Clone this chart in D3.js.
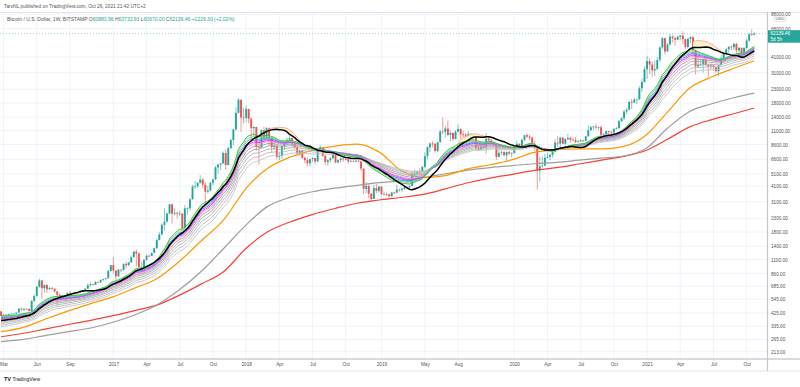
<!DOCTYPE html>
<html>
<head>
<meta charset="utf-8">
<script src="https://cdn.jsdelivr.net/npm/d3@7"></script>
<style>
  body { margin: 0; background: #fff; }
  svg { display: block; font-family: "Liberation Sans", Arial, sans-serif; }
</style>
</head>
<body>
<svg id="chart" width="800" height="387"></svg>
<script>
// weekly BTC/USD candles (Bitstamp), one value per week, first bar = week of 29 Feb 2016
const firstBar = "2016-02-29";
const firstOpen = 437;
const lastOpen = 60883.96;

const closes = [
  404, 411, 410, 416, 420, 420, 428, 459, 451, 458, 457, 441, 527, 575, 680, 760, 662, 702, 650, 664, 655, 625,
  590, 568, 582, 570, 608, 605, 607, 602, 610, 617, 639, 656, 698, 711, 703, 738, 735, 764, 778, 790, 897, 998,
  907, 818, 922, 915, 1020, 997, 1050, 1150, 1270, 1230, 965, 966, 1098, 1180, 1178, 1240, 1350, 1560, 1730, 2050,
  2170, 2510, 2960, 2500, 2540, 2500, 2500, 1930, 2750, 2750, 3230, 4070, 4080, 4350, 4590, 4200, 3700, 3780, 4350,
  4610, 5710, 6010, 6140, 7390, 5950, 8050, 9320, 11250, 15140, 19100, 13900, 13850,
  16200, 13600, 11500, 11750, 8200, 8100, 11100, 9600, 11500, 9600, 8200, 8450, 6900, 7000, 8350, 8900, 9350, 9650,
  8700, 8200, 7350, 7700, 6780, 6500, 6150, 6620, 6750, 6360, 7700, 8200, 7020, 6300, 6500, 6720, 7300, 6250, 6500,
  6700, 6630, 6600, 6350, 6420, 6350, 6450, 6350, 5600, 3900, 4100, 3580, 3250, 3950, 3760, 4050,
  3550, 3550, 3530, 3410, 3650, 3640, 3850, 3820, 3900, 4000, 3990, 4100, 5050, 5070, 5320, 5270, 5760, 6990, 8180,
  8750, 8730, 7650, 8950, 10850, 10800, 11450, 10200, 10560, 9480, 10800, 11360, 10300, 10150, 9600, 10400, 10350,
  10050, 8050, 7850, 8300, 8230, 9550, 9250, 8800, 8500, 6900, 7400, 7500, 7100, 7520, 7320, 7360,
  8150, 8700, 8350, 9350, 10150, 9900, 9700, 8550, 8050, 5400, 5820, 5900, 6780, 6900, 7150, 7550, 8900, 8750, 9700,
  8720, 9450, 9670, 9350, 9300, 9000, 9070, 9250, 9170, 9950, 11100, 11700, 11850, 11650, 11700, 10250, 10320, 10920,
  10750, 10680, 11370, 11500, 13030, 13750, 15480, 15970, 18400, 18170, 19150, 19270, 23450, 26250, 33000,
  38150, 35800, 32250, 33100, 38900, 48600, 57400, 45200, 51200, 59000, 57500, 55800, 58700, 60000, 56300, 49050,
  56600, 58300, 46500, 34700, 35600, 35800, 39100, 35500, 34700, 35300, 34250, 31800, 35400, 39850, 43800, 47050,
  49300, 48900, 51750, 46050, 48300, 43200, 48200, 54950, 61500, 60910.16, 62139.46
];

const highs = [
  440, 420, 418, 420, 424, 424, 430, 462, 468, 465, 460, 458, 535, 590, 690, 785, 770, 705, 705, 680, 675, 660,
  628, 600, 590, 585, 612, 630, 612, 610, 612, 620, 642, 660, 720, 740, 720, 752, 745, 775, 780, 795, 920, 1000,
  1150, 910, 930, 925, 1035, 1065, 1060, 1190, 1290, 1325, 1250, 1060, 1110, 1210, 1200, 1250, 1360, 1600, 1800, 2100,
  2760, 2530, 2980, 2980, 2760, 2600, 2640, 2530, 2920, 2810, 3300, 4190, 4480, 4370, 4980, 4710, 4400, 4100, 4400,
  4630, 5860, 6100, 6200, 7600, 7890, 8250, 9500, 11400, 16700, 19666, 19200, 16500,
  17250, 16300, 14000, 11900, 11800, 9000, 11300, 11800, 11700, 11700, 9900, 9100, 8500, 7500, 8450, 9000, 9750, 9950,
  9700, 8880, 8450, 7770, 7800, 6900, 6800, 6650, 6850, 6800, 7700, 8500, 8200, 7150, 6600, 6880, 7350, 7410, 6600,
  6800, 6780, 6700, 6700, 6800, 6450, 6480, 6550, 6450, 5600, 4400, 4300, 3600, 4200, 4250, 4100,
  4100, 3720, 3650, 3560, 3700, 3700, 4200, 3900, 3950, 4030, 4090, 4150, 5350, 5470, 5420, 5650, 5880, 7480, 8350,
  8950, 9090, 8800, 9000, 11200, 13880, 12000, 13200, 11100, 10620, 11100, 12300, 11450, 10950, 10600, 10950, 10480,
  10350, 10050, 8500, 8650, 8400, 10500, 9950, 9500, 9000, 8600, 7850, 7750, 7650, 7600, 7700, 7500,
  8450, 9180, 8800, 9550, 10200, 10500, 10250, 9950, 9200, 8150, 6900, 6950, 7280, 7450, 7300, 7750, 9450, 10050, 9900,
  9850, 9720, 10400, 9950, 9800, 9800, 9300, 9480, 9330, 10050, 12050, 12000, 12080, 12480, 11800, 12100, 10600, 11050,
  10980, 10950, 11450, 11750, 13350, 14000, 15950, 16480, 18800, 19400, 19900, 19450, 24300, 28000, 34800,
  41950, 40100, 37800, 38500, 40900, 49700, 58350, 57500, 52650, 61700, 60500, 58400, 60000, 61000, 64850, 57000,
  58000, 59500, 59600, 46700, 40800, 39500, 39900, 41300, 36000, 36600, 35900, 34500, 35500, 42600, 44800, 48100,
  49400, 50500, 52900, 52950, 48850, 48400, 49000, 56100, 62900, 67000, 63733.93
];

const lows = [
  400, 400, 405, 410, 412, 415, 418, 425, 443, 440, 448, 436, 438, 512, 570, 665, 550, 610, 610, 645, 645, 610,
  480, 565, 565, 565, 565, 600, 600, 590, 595, 605, 615, 630, 650, 680, 695, 700, 725, 725, 755, 770, 790, 890,
  860, 755, 815, 885, 910, 940, 985, 1040, 1150, 980, 930, 890, 930, 1080, 1150, 1170, 1240, 1340, 1560, 1700,
  1850, 2140, 2460, 2100, 2430, 2300, 2420, 1830, 1920, 2450, 2650, 3230, 3900, 3950, 4280, 3980, 2970, 3590, 3700,
  4140, 4590, 5100, 5460, 6070, 5500, 5950, 7950, 8500, 11050, 15050, 10800, 12500,
  12800, 12600, 9000, 9900, 7700, 6000, 8100, 9300, 9400, 8400, 7400, 7800, 6600, 6500, 6650, 7800, 8600, 8950,
  8300, 7950, 7100, 7050, 6650, 6120, 5800, 5800, 6300, 6050, 6300, 7670, 6900, 5950, 5880, 6250, 6650, 6150, 6120,
  6200, 6300, 6470, 6100, 6300, 6300, 6250, 6300, 5330, 3550, 3600, 3300, 3150, 3250, 3600, 3650,
  3500, 3470, 3450, 3350, 3380, 3550, 3610, 3700, 3680, 3820, 3900, 3900, 4100, 4950, 4980, 5000, 5250, 5600, 6600,
  7500, 8200, 7450, 7500, 8950, 10300, 9700, 10000, 9100, 9150, 9400, 10800, 9500, 9800, 9350, 9550, 9900,
  9850, 7800, 7700, 7780, 7900, 7300, 8900, 8700, 8350, 6550, 6850, 7150, 6950, 6450, 7140, 6870,
  7350, 8050, 8250, 8300, 9150, 9700, 9300, 8450, 7700, 3850, 4450, 5700, 5850, 6750, 6500, 6800, 7450, 8200, 8100,
  8650, 8600, 9280, 8900, 9200, 8820, 8900, 9050, 9000, 9150, 9900, 11100, 11150, 11250, 11100, 9900, 9850, 10200,
  10150, 10400, 10530, 11200, 11400, 12900, 13300, 14800, 15850, 16200, 18000, 17650, 19000, 21900, 26000,
  27700, 30300, 28800, 29200, 32300, 37350, 47000, 43000, 45000, 50300, 53300, 50400, 55500, 55500, 51500, 47000,
  47500, 52900, 42950, 30000, 33400, 34800, 31000, 34800, 28800, 32700, 32100, 31100, 29300, 35200, 37500, 42900,
  43900, 46300, 46500, 43000, 43500, 39600, 40800, 47100, 53900, 59700, 60670
];

// long moving averages, every two months
const maDates = [
  "2016-02-29", "2016-05-01", "2016-07-01", "2016-09-01", "2016-11-01", "2017-01-01", "2017-03-01", "2017-05-01",
  "2017-07-01", "2017-09-01", "2017-11-01", "2018-01-01", "2018-03-01", "2018-05-01", "2018-07-01", "2018-09-01",
  "2018-11-01", "2019-01-01", "2019-03-01", "2019-05-01", "2019-07-01", "2019-09-01", "2019-11-01", "2020-01-01",
  "2020-03-01", "2020-05-01", "2020-07-01", "2020-09-01", "2020-11-01", "2021-01-01", "2021-03-01", "2021-05-01",
  "2021-07-01", "2021-09-01", "2021-10-25"
];
const ma50 = [
  305, 329, 382, 441, 503, 567, 662, 784, 1063, 1550, 2250, 3935, 5623, 6846, 7750, 8367, 8667, 7504, 5433, 4775,
  4942, 5567, 5992, 6563, 7467, 7833, 7946, 7946, 8313, 10146, 15338, 23546, 28808, 33700, 38350
];
const maLong = [
  255, 265, 285, 305, 325, 360, 410, 490, 640, 900, 1350, 2050, 2850, 3350, 3700, 3950, 4150, 4350, 4500, 4750,
  5100, 5450, 5700, 5900, 6100, 6250, 6500, 6750, 7000, 8000, 11500, 15500, 17800, 19900, 21500
];
const ma200 = [
  278, 296, 320, 346, 373, 405, 444, 489, 582, 715, 892, 1351, 1810, 2156, 2463, 2746, 3015, 3192, 3341, 3529,
  3894, 4346, 4724, 5044, 5421, 5690, 6069, 6505, 6962, 7735, 9435, 11773, 13412, 14945, 16510
];

// upper edge of the light band over the 20-week line
const bandTops = [
  [["2018-02-19", 10700], ["2018-03-05", 11300], ["2018-03-19", 11600], ["2018-04-02", 11700], ["2018-04-16", 11600],
   ["2018-04-30", 11200], ["2018-05-14", 10300], ["2018-05-28", 9300]],
  [["2019-08-05", 9000], ["2019-08-19", 9700], ["2019-09-02", 10100], ["2019-09-16", 10400], ["2019-09-30", 10300],
   ["2019-10-14", 10000], ["2019-10-28", 9800]],
  [["2021-05-10", 54000], ["2021-05-24", 55000], ["2021-06-07", 54500], ["2021-06-21", 53000], ["2021-07-05", 50500],
   ["2021-07-19", 47000], ["2021-08-02", 44500]]
];

// EMA ribbon on the closes, each started from the level it shows at the left edge
const ribbonPeriods = [20, 22, 24, 26, 28, 30];
const ribbonStart = [403, 398, 393, 389, 384, 380];
const grayPeriods = [33, 37, 42, 48, 55];
const grayStart = [372, 362, 352, 342, 332];
// 20-week SMA; weeks before the first bar taken at the level read at the left edge
const blackPeriod = 20;
const blackLead = 370;

const priceTicks = [88000, 68000, 41000, 31000, 23000, 18000, 14000, 11000, 8600, 6600, 5100, 4100, 3100, 2300,
  1800, 1400, 1100, 860, 685, 545, 425, 335, 265, 213];
const timeTicks = ["2016-03", "2016-06", "2016-09", "2017-01", "2017-04", "2017-07", "2017-10", "2018-01", "2018-04",
  "2018-07", "2018-10", "2019-01", "2019-05", "2019-08", "2020-01", "2020-04", "2020-07", "2020-10", "2021-01",
  "2021-04", "2021-07", "2021-10"];

const ribbonColors = ["#3dbf45", "#93d86c", "#3cb6ee", "#8668f0", "#e040fb", "#f59bc4"];
const grayColors = ["#9c9c9c", "#a6a6a6", "#b0b0b0", "#bababa", "#c4c4c4"];
const upColor = "#26a69a", downColor = "#ef5350";

const svg = d3.select("#chart");
const plotRight = 767, plotTop = 12.5, plotBottom = 359;

const parse = s => new Date(s + "T00:00:00Z");
const dates = closes.map((c, i) => d3.utcMonday.offset(parse(firstBar), i));
const opens = closes.map((c, i) => (i === 0 ? firstOpen : closes[i - 1]));
opens[opens.length - 1] = lastOpen;

const x = d3.scaleUtc().domain([dates[0], dates[dates.length - 1]]).range([1.0, 754.3]);
const y = d3.scaleLog().domain([213, 88000]).range([351.7, 14.2]);

function ema(period, start) {
  const k = 2 / (period + 1);
  let v = start;
  return closes.map((c, i) => (i === 0 ? v : (v = k * c + (1 - k) * v)));
}
function sma(n, lead) {
  return closes.map((c, i) => {
    const win = closes.slice(Math.max(0, i - n + 1), i + 1);
    return (d3.sum(win) + (n - win.length) * lead) / n;
  });
}

const ribbon = ribbonPeriods.map((p, i) => ema(p, ribbonStart[i]));
const grays = grayPeriods.map((p, i) => ema(p, grayStart[i]));
const black = sma(blackPeriod, blackLead);

// frame
svg.append("text").attr("x", 4).attr("y", 8).attr("font-size", 4.8).attr("fill", "#555")
  .text("TaroNL published on TradingView.com, Oct 26, 2021 21:42 UTC+2");
svg.append("line").attr("x1", 0).attr("x2", 800).attr("y1", plotTop).attr("y2", plotTop)
  .attr("stroke", "#e0e3eb");

svg.append("clipPath").attr("id", "plotClip").append("rect")
  .attr("x", 0).attr("y", plotTop).attr("width", plotRight).attr("height", plotBottom - plotTop);

const tickDates = timeTicks.map(s => d3.utcMonday.ceil(parse(s + "-01")));

// grid
const grid = svg.append("g").attr("clip-path", "url(#plotClip)");
grid.selectAll(".hg").data(priceTicks).join("line")
  .attr("x1", 0).attr("x2", plotRight).attr("y1", d => y(d)).attr("y2", d => y(d))
  .attr("stroke", "#f0f3fa");
grid.selectAll(".vg").data(tickDates).join("line")
  .attr("x1", d => x(d)).attr("x2", d => x(d)).attr("y1", plotTop).attr("y2", plotBottom)
  .attr("stroke", "#f0f3fa");

const plot = svg.append("g").attr("clip-path", "url(#plotClip)");

// candles
const bars = plot.append("g");
closes.forEach((c, i) => {
  const o = opens[i], col = c >= o ? upColor : downColor, cx = x(dates[i]);
  bars.append("line").attr("x1", cx).attr("x2", cx).attr("y1", y(highs[i])).attr("y2", y(lows[i]))
    .attr("stroke", col).attr("stroke-width", 0.6);
  const top = y(Math.max(o, c)), bot = y(Math.min(o, c));
  bars.append("rect").attr("x", cx - 0.95).attr("width", 1.9).attr("y", top)
    .attr("height", Math.max(0.7, bot - top)).attr("fill", col);
});

const maX = maDates.map(parse);
const smoothLine = d3.line().x((d, i) => x(maX[i])).y(d => y(d)).curve(d3.curveMonotoneX);
const weekLine = d3.line().x((d, i) => x(dates[i])).y(d => y(d));

plot.append("path").attr("d", smoothLine(ma200)).attr("fill", "none").attr("stroke", "#f44336").attr("stroke-width", 1.2);
plot.append("path").attr("d", smoothLine(maLong)).attr("fill", "none").attr("stroke", "#9e9e9e").attr("stroke-width", 1.2);
plot.append("path").attr("d", smoothLine(ma50)).attr("fill", "none").attr("stroke", "#ff9800").attr("stroke-width", 1.2);

// light band between the 20-week line and the read upper edge
const barIndex = s => d3.bisector(d => d).left(dates, parse(s));
bandTops.forEach(seg => {
  const pts = seg.map(([s, v]) => { const i = barIndex(s); return { t: dates[i], top: v, base: black[i] }; });
  plot.append("path")
    .attr("d", d3.area().x(d => x(d.t)).y0(d => y(d.base)).y1(d => y(Math.max(d.top, d.base)))
      .curve(d3.curveMonotoneX)(pts))
    .attr("fill", "#fff0c4").attr("opacity", 0.95);
  plot.append("path")
    .attr("d", d3.line().x(d => x(d.t)).y(d => y(Math.max(d.top, d.base))).curve(d3.curveMonotoneX)(pts))
    .attr("fill", "none").attr("stroke", "#f6a98e").attr("stroke-width", 0.9);
});

grays.slice().reverse().forEach((s, i) => {
  plot.append("path").attr("d", weekLine(s)).attr("fill", "none")
    .attr("stroke", grayColors[grayColors.length - 1 - i]).attr("stroke-width", 0.9);
});
ribbon.slice().reverse().forEach((s, i) => {
  plot.append("path").attr("d", weekLine(s)).attr("fill", "none")
    .attr("stroke", ribbonColors[ribbonColors.length - 1 - i]).attr("stroke-width", 1);
});
plot.append("path").attr("d", weekLine(black)).attr("fill", "none").attr("stroke", "#000").attr("stroke-width", 1.5);

// last price line
const lastClose = closes[closes.length - 1];
plot.append("line").attr("x1", 0).attr("x2", plotRight).attr("y1", y(lastClose)).attr("y2", y(lastClose))
  .attr("stroke", upColor).attr("stroke-dasharray", "1,2").attr("opacity", 0.45);

// axes
const yAxis = svg.append("g").attr("transform", `translate(${plotRight + 3},0)`)
  .call(d3.axisRight(y).tickValues(priceTicks).tickFormat(d3.format(".2f")).tickSize(0).tickPadding(1));
yAxis.select(".domain").remove();
yAxis.selectAll("text").attr("font-size", 4.7).attr("fill", "#555").attr("font-family", "Liberation Sans, Arial, sans-serif");

const xAxis = svg.append("g").attr("transform", `translate(0,${plotBottom})`)
  .call(d3.axisBottom(x).tickValues(tickDates).tickSize(0).tickPadding(4)
    .tickFormat(d => (d.getUTCMonth() === 0 ? d3.utcFormat("%Y")(d) : d3.utcFormat("%b")(d))));
xAxis.select(".domain").remove();
xAxis.selectAll("text").attr("font-size", 4.7).attr("fill", "#555").attr("font-family", "Liberation Sans, Arial, sans-serif");

svg.append("line").attr("x1", 0).attr("x2", 800).attr("y1", plotBottom).attr("y2", plotBottom).attr("stroke", "#b2b5be");
svg.append("line").attr("x1", 0).attr("x2", 800).attr("y1", 371).attr("y2", 371).attr("stroke", "#e0e3eb");
svg.append("line").attr("x1", plotRight + 0.5).attr("x2", plotRight + 0.5).attr("y1", plotTop).attr("y2", 371)
  .attr("stroke", "#c3c6ce").attr("stroke-width", 1.2);

// USD badge
svg.append("rect").attr("x", 774).attr("y", 16).attr("width", 12).attr("height", 5.5).attr("rx", 1)
  .attr("fill", "#fff").attr("stroke", "#c3c6ce").attr("stroke-width", 0.5);
svg.append("text").attr("x", 780).attr("y", 20.2).attr("text-anchor", "middle").attr("font-size", 4.2)
  .attr("fill", "#555").text("USD");

// last price badge
const ly = y(lastClose);
svg.append("rect").attr("x", plotRight + 1).attr("y", ly - 3.5).attr("width", 33).attr("height", 12.5)
  .attr("fill", upColor);
svg.append("text").attr("x", plotRight + 3.5).attr("y", ly + 1.6).attr("font-size", 4.7).attr("fill", "#fff")
  .text(lastClose.toFixed(2));
svg.append("text").attr("x", plotRight + 3.5).attr("y", ly + 7.2).attr("font-size", 4.7).attr("fill", "#fff")
  .text("5d 5h");

// legend
const prevClose = closes[closes.length - 2];
const chg = lastClose - prevClose;
const legend = svg.append("text").attr("x", 7).attr("y", 20.5).attr("font-size", 5).attr("fill", "#555");
legend.append("tspan").text("Bitcoin / U.S. Dollar, 1W, BITSTAMP ");
[["O", lastOpen], ["H", highs[highs.length - 1]], ["L", lows[lows.length - 1]], ["C", lastClose]].forEach(([k, v]) => {
  legend.append("tspan").text(" " + k);
  legend.append("tspan").attr("fill", upColor).text(v.toFixed(2));
});
legend.append("tspan").attr("fill", upColor)
  .text(`  +${chg.toFixed(2)} (+${(chg / prevClose * 100).toFixed(2)}%)`);

// TradingView mark
svg.append("text").attr("x", 4).attr("y", 381).attr("font-size", 5.5).attr("font-weight", 900)
  .attr("fill", "#131722").text("TV");
svg.append("text").attr("x", 12.5).attr("y", 381).attr("font-size", 5).attr("fill", "#131722").text("TradingView");
</script>
</body>
</html>
